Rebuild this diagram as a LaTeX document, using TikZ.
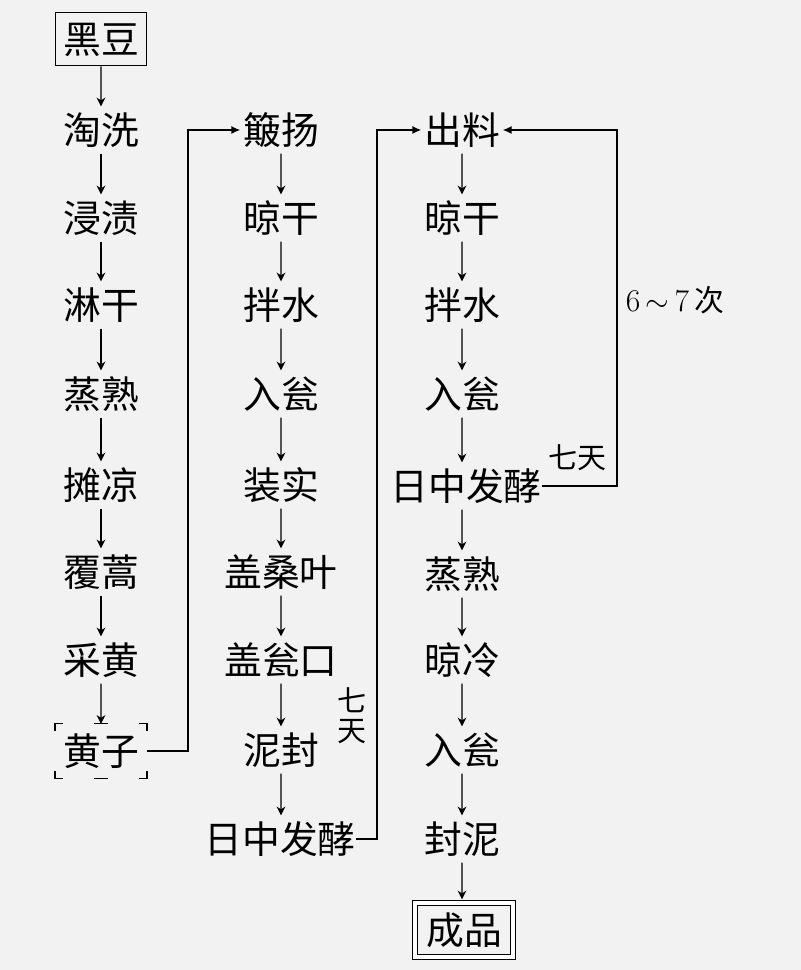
\documentclass[tikz,border=0pt]{standalone}
\usepackage{fontspec}
\newfontfamily\cjk{Noto Sans CJK SC}
\usetikzlibrary{arrows,arrows.meta,positioning}

\tikzset{
  flow/.style={-{Stealth[length=5pt,width=5pt,inset=1.6pt]}, line width=0.7pt, shorten <=2.5pt, shorten >=2.5pt},
  backflow/.style={-{Latex[length=5pt,width=4.5pt]}, line width=0.7pt, shorten >=1.5pt},
  remark/.style={font=\cjk\fontsize{16.5}{17}\selectfont, text height=, text depth=},
  framed/.style={draw, line width=0.7pt, inner sep=4.5pt},
  tick/.style={line width=0.7pt},
}

\begin{document}
\begin{tikzpicture}[scale=0.2]
\tikzstyle{every node}+=[inner sep=0pt, text height=18.9pt, text depth=2.6pt, font=\cjk\fontsize{21.5}{21.5}\selectfont]
\fill [black!5] (0,0) rectangle (80.1,-97);
\draw (10.1,-3.9) node [framed] (hd) {黑豆};
\draw (10.1,-13) node (tx) {淘洗};
\draw (10.1,-21.8) node (jz) {浸渍};
\draw (10.1,-30.5) node (lg) {淋干};
\draw (10.1,-39.4) node (zs) {蒸熟};
\draw (10.1,-48.5) node (tl) {摊凉};
\draw (10.1,-57.2) node (fh) {覆蒿};
\draw (10.1,-66) node (ch) {采黄};
\draw (10.1,-75.1) node [inner sep=4.5pt] (hz) {黄子};
\draw [tick] (hz.north west) ++(0,-0.7) -- ++(0,0.7) -- ++(0.8,0);
\draw [tick] (hz.north east) ++(0,-0.7) -- ++(0,0.7) -- ++(-0.8,0);
\draw [tick] (hz.south west) ++(0,0.7) -- ++(0,-0.7) -- ++(0.8,0);
\draw [tick] (hz.south east) ++(0,0.7) -- ++(0,-0.7) -- ++(-0.8,0);
\draw [tick] (hz.north) ++(-0.7,0) -- ++(1.4,0);
\draw [tick] (hz.south) ++(-0.7,0) -- ++(1.4,0);
\draw [flow, shorten <=0pt] (hd) -- (tx);
\draw [flow] (tx) -- (jz);
\draw [flow] (jz) -- (lg);
\draw [flow] (lg) -- (zs);
\draw [flow] (zs) -- (tl);
\draw [flow] (tl) -- (fh);
\draw [flow] (fh) -- (ch);
\draw [flow, shorten >=0pt] (ch) -- (hz);
\draw (28.1,-13) node (by) {簸扬};
\draw (28.1,-21.8) node (lg2) {晾干};
\draw (28.1,-30.5) node (bs) {拌水};
\draw (28.1,-39.4) node (rw) {入瓮};
\draw (28.1,-48.5) node (zsh) {装实};
\draw (28.1,-57.2) node (gs) {盖桑叶};
\draw (28.1,-66) node (gw) {盖瓮口};
\draw (28.1,-75) node (nf) {泥封};
\draw (28,-83.9) node (fj) {日中发酵};
\draw (35.2,-71.6) node [remark, align=center] (qt) {七\\天};
\draw [flow] (by) -- (lg2);
\draw [flow] (lg2) -- (bs);
\draw [flow] (bs) -- (rw);
\draw [flow] (rw) -- (zsh);
\draw [flow] (zsh) -- (gs);
\draw [flow] (gs) -- (gw);
\draw [flow] (gw) -- (nf);
\draw [flow] (nf) -- (nf |- fj.north);
\draw [backflow] (hz.east) -- ++(4.1,0) |- (by.west);
\draw (46.2,-13) node (cl) {出料};
\draw (46.2,-21.8) node (lg3) {晾干};
\draw (46.2,-30.5) node (bs3) {拌水};
\draw (46.2,-39.4) node (rw3) {入瓮};
\draw (46.6,-48.6) node (fj3) {日中发酵};
\draw (46.2,-57.4) node (zs3) {蒸熟};
\draw (46.2,-66) node (ll) {晾冷};
\draw (46.2,-75) node (rw4) {入瓮};
\draw (46.2,-83.9) node (fn) {封泥};
\draw (46.4,-93) node [draw, double, double distance=2.2pt, line width=0.7pt, inner xsep=6.5pt, inner ysep=4.5pt] (cp) {成品};
\draw [flow] (cl) -- (lg3);
\draw [flow] (lg3) -- (bs3);
\draw [flow] (bs3) -- (rw3);
\draw [flow] (rw3) -- (rw3 |- fj3.north);
\draw [flow] (zs3 |- fj3.south) -- (zs3);
\draw [flow] (zs3) -- (ll);
\draw [flow] (ll) -- (rw4);
\draw [flow] (rw4) -- (fn);
\draw [flow, shorten >=1.8pt] (fn) -- (fn |- cp.north);
\draw [backflow] (fj.east) -- ++(2.1,0) |- (cl.west);
\draw [backflow] (fj3.east) -- ++(7.5,0) |- (cl.east);
\draw (57.7,-45.8) node [remark] (qt3) {七天};
\draw (67.5,-30) node [font=\fontsize{18}{18}\selectfont, text height=, text depth=] (cs) {6\,$\sim$\,7\,{\cjk\fontsize{17}{17}\selectfont 次}};
\end{tikzpicture}
\end{document}
